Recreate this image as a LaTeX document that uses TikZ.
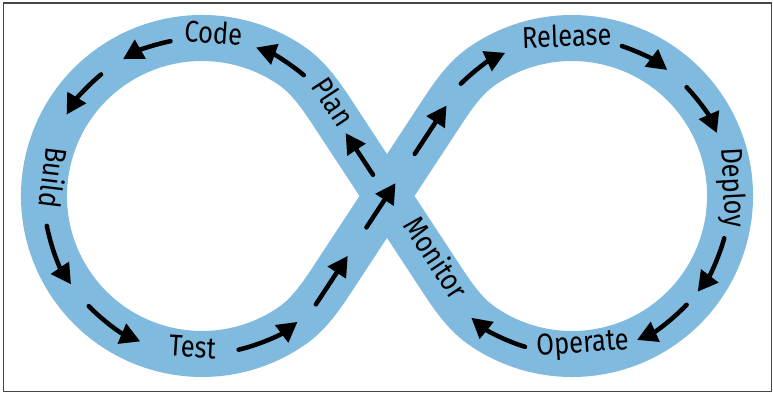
\documentclass[tikz,border=0pt]{standalone}
\usepackage{fontspec}
\setmainfont{Fira Sans}[FakeStretch=0.85]
\usetikzlibrary{arrows.meta}
\definecolor{bandblue}{RGB}{128,186,222}
\definecolor{framegray}{RGB}{70,70,70}
\begin{document}
\begin{tikzpicture}[x=1pt,y=1pt,
  lbl/.style={font=\fontsize{30}{30}\selectfont, text height=0.69em, text depth=0pt, inner sep=0pt},
  flow/.style={line width=4.5pt, line cap=round, -{Triangle[length=20pt,width=21pt]}},
  band/.style={draw=bandblue, line width=46pt, line join=round}]
\useasboundingbox (0,0) rectangle (773,393);
\draw[framegray, line width=1.6pt] (3.3,1.5) rectangle (771.5,389.7);
% key points
\coordinate (C1) at (202,197);
\coordinate (C2) at (572,197);
\coordinate (X) at (387,197);
\coordinate (L1) at (313.7,85.3);
\coordinate (R2) at (460.3,85.3);
% band (centre line: two circles joined through the crossing)
\path[band] (X) -- (332.1,113.4) .. controls (321.1,96.7) and (309,79.1) .. (292.6,67.6)
  arc[start angle=-55, end angle=-305, radius=158]
  .. controls (309,314.9) and (321.1,297.3) .. (332.1,280.6)
  -- (X) -- (441.9,280.6) .. controls (452.9,297.3) and (465,314.9) .. (481.4,326.4)
  arc[start angle=125, end angle=-125, radius=158]
  .. controls (465,79.1) and (452.9,96.7) .. (441.9,113.4) -- cycle;
% left loop arrows
\draw[flow] ([shift={(101.5:158)}]C1) arc[start angle=101.5, end angle=120, radius=158];
\draw[flow] ([shift={(129.7:158)}]C1) arc[start angle=129.7, end angle=149, radius=158];
\draw[flow] ([shift={(190.9:158)}]C1) arc[start angle=190.9, end angle=214, radius=158];
\draw[flow] ([shift={(224.2:158)}]C1) arc[start angle=224.2, end angle=247, radius=158];
\draw[flow] ([shift={(283.4:158)}]C1) arc[start angle=283.4, end angle=307.2, radius=158];
\draw[flow] ([shift={(49.9:158)}]C1) arc[start angle=49.9, end angle=70, radius=158];
% right loop arrows
\draw[flow] ([shift={(134.7:158)}]C2) arc[start angle=134.7, end angle=115, radius=158];
\draw[flow] ([shift={(71.6:158)}]C2) arc[start angle=71.6, end angle=52.9, radius=158];
\draw[flow] ([shift={(43.5:158)}]C2) arc[start angle=43.5, end angle=23.5, radius=158];
\draw[flow] ([shift={(-15.5:158)}]C2) arc[start angle=-15.5, end angle=-37.3, radius=158];
\draw[flow] ([shift={(-43.5:158)}]C2) arc[start angle=-43.5, end angle=-65.7, radius=158];
\draw[flow] ([shift={(-107.3:158)}]C2) arc[start angle=-107.3, end angle=-129.6, radius=158];
% straight arrows
\coordinate (a8s) at ([shift={(56.7:4)}]L1);
\coordinate (a8e) at ([shift={(56.7:62)}]L1);
\coordinate (a9s) at ([shift={(56.7:96)}]L1);
\coordinate (a9e) at ([shift={(56.7:149)}]L1);
\coordinate (a10s) at ([shift={(56.7:184)}]L1);
\coordinate (a10e) at ([shift={(56.7:242)}]L1);
\coordinate (a7s) at ([shift={(123.3:159)}]R2);
\coordinate (a7e) at ([shift={(123.3:209)}]R2);
\draw[flow] (a8s) -- (a8e);
\draw[flow] (a9s) -- (a9e);
\draw[flow] (a10s) -- (a10e);
\draw[flow] (a7s) -- (a7e);
% labels
\node[lbl, rotate=-4] (code) at ([shift={(86:156)}]C1) {Code};
\node[lbl, rotate=-97] (build) at ([shift={(173:157)}]C1) {Build};
\node[lbl, rotate=-3.6] (test) at ([shift={(266.4:158)}]C1) {Test};
\node[lbl, rotate=-56.7] (plan) at ([shift={(123.3:242)}]R2) {Plan};
\node[lbl, rotate=-56.7] (monitor) at ([shift={(123.3:55)}]R2) {Monitor};
\node[lbl, rotate=2] (release) at ([shift={(91.9:153)}]C2) {Release};
\node[lbl, rotate=-87] (deploy) at ([shift={(3:155)}]C2) {Deploy};
\node[lbl, rotate=4.1] (operate) at ([shift={(-85.9:153.5)}]C2) {Operate};
\end{tikzpicture}
\end{document}
